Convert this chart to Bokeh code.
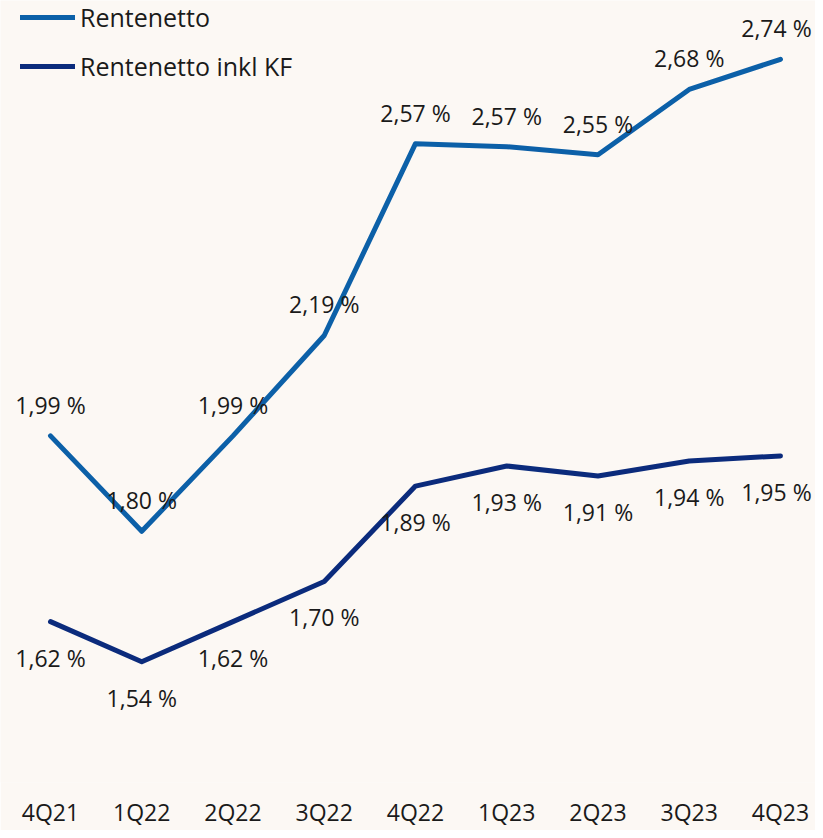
from bokeh.plotting import figure
from bokeh.models import Range1d, FixedTicker, Legend, LegendItem, ColumnDataSource, LabelSet
from bokeh.core.properties import value
from bokeh.embed import file_html
from bokeh.resources import INLINE

categories = ["4Q21", "1Q22", "2Q22", "3Q22", "4Q22", "1Q23", "2Q23", "3Q23", "4Q23"]
rentenetto = [1.99, 1.80, 1.99, 2.19, 2.572, 2.566, 2.55, 2.68, 2.74]
rentenetto_kf = [1.62, 1.54, 1.62, 1.70, 1.89, 1.93, 1.91, 1.94, 1.95]
series_names = ["Rentenetto", "Rentenetto inkl KF"]

BG = "#FCF8F4"
C_LIGHT = "#0C60A8"
C_DARK = "#0B2B7C"
FONT = "Open Sans"
TXT = "#1A1A1A"

def fmt(v):
    return ("%.2f" % v).replace(".", ",") + " %"

xs = list(range(len(categories)))
# keep the last label inside the right edge
dx = [0] * (len(categories) - 1) + [-4]

H = 785
y_end = 1440.0 / 504.0
y_start = (1440.0 - H) / 504.0

p = figure(width=815, height=830, output_backend="svg", toolbar_location=None,
           x_range=Range1d(-0.548, 8.384), y_range=Range1d(y_start, y_end),
           y_axis_location=None, min_border=0, min_border_bottom=45,
           background_fill_color=BG, border_fill_color=BG, outline_line_color=None)
p.grid.visible = False

src1 = ColumnDataSource(dict(x=xs, y=rentenetto, t=[fmt(v) for v in rentenetto], dx=dx))
src2 = ColumnDataSource(dict(x=xs, y=rentenetto_kf, t=[fmt(v) for v in rentenetto_kf], dx=dx))

r1 = p.line("x", "y", source=src1, line_color=C_LIGHT, line_width=5, line_cap="round", line_join="round")
r2 = p.line("x", "y", source=src2, line_color=C_DARK, line_width=5, line_cap="round", line_join="round")

l1 = LabelSet(x="x", y="y", text="t", source=src1, x_offset="dx", y_offset=31, text_align="center",
              text_baseline="middle", text_font=value(FONT), text_font_size="23px", text_color=TXT)
l2 = LabelSet(x="x", y="y", text="t", source=src2, x_offset="dx", y_offset=-36, text_align="center",
              text_baseline="middle", text_font=value(FONT), text_font_size="23px", text_color=TXT)
p.add_layout(l1)
p.add_layout(l2)

ax = p.xaxis[0]
ax.ticker = FixedTicker(ticks=xs)
ax.major_label_overrides = {i: c for i, c in enumerate(categories)}
ax.axis_line_color = None
ax.major_tick_line_color = None
ax.minor_tick_line_color = None
ax.major_tick_out = 0
ax.major_tick_in = 0
ax.major_label_standoff = 13
ax.major_label_text_font = FONT
ax.major_label_text_font_size = "23px"
ax.major_label_text_color = TXT

legend = Legend(items=[LegendItem(label=series_names[0], renderers=[r1]),
                       LegendItem(label=series_names[1], renderers=[r2])],
                location=(20, 699), orientation="vertical",
                glyph_width=55, glyph_height=20, label_height=20, spacing=15,
                label_standoff=5, padding=0, margin=0,
                background_fill_alpha=0, border_line_color=None,
                label_text_font=FONT, label_text_font_size="25px", label_text_color=TXT)
p.add_layout(legend)

open("out.html", "w").write(file_html(p, INLINE))
